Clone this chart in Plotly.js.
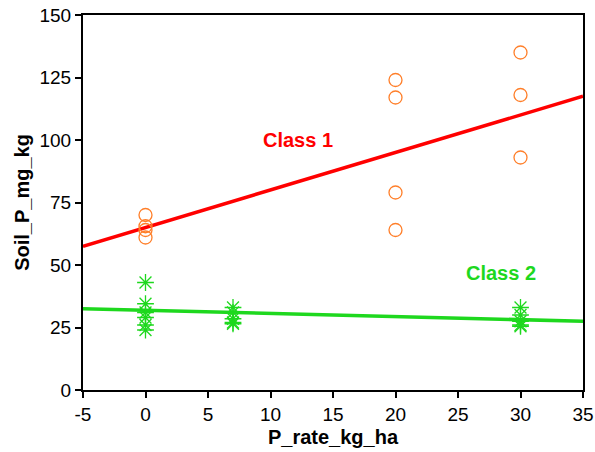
<!DOCTYPE html>
<html><head><meta charset="utf-8">
<script src="https://cdn.plot.ly/plotly-3.0.1.min.js"></script>
<style>body{margin:0;padding:0;background:#fff}#chart{width:595px;height:452px}</style>
</head><body><div id="chart"></div>
<script>
// Class 1 observations
const class1X = [0, 0, 0, 0, 20, 20, 20, 20, 30, 30, 30];
const class1Y = [70, 65.5, 64, 61, 124, 117, 79, 64, 135, 118, 93];
// Class 2 observations
const class2X = [0, 0, 0, 0, 0, 0, 7, 7, 7, 7, 7, 30, 30, 30, 30, 30];
const class2Y = [43, 34.5, 31, 29, 26, 24, 33, 31, 28.5, 27, 26.5, 33, 30, 27.5, 26, 25.5];
// Fitted lines
const fitX = [-5, 35];
const fit1Y = [57.5, 117.5];
const fit2Y = [32.5, 27.5];
const xTicks = [-5, 0, 5, 10, 15, 20, 25, 30, 35];
const yTicks = [0, 25, 50, 75, 100, 125, 150];

const red = '#ff0000', green = '#1ed81e', orange = '#ff7f2a';
const traces = [
  {x: fitX, y: fit1Y, mode: 'lines', line: {color: red, width: 3.5}, hoverinfo: 'skip'},
  {x: fitX, y: fit2Y, mode: 'lines', line: {color: green, width: 3.5}, hoverinfo: 'skip'},
  {x: class1X, y: class1Y, mode: 'markers', marker: {symbol: 'circle-open', size: 13, color: orange, line: {width: 1.3}}},
  {x: class2X, y: class2Y, mode: 'markers', marker: {symbol: 'asterisk-open', size: 14, color: green, line: {width: 1.3, color: green}}}
];
const font = {family: 'Liberation Sans, Arial, sans-serif', color: '#000'};
const layout = {
  width: 595, height: 452,
  margin: {l: 83, r: 12, t: 15, b: 62},
  showlegend: false,
  paper_bgcolor: '#fff', plot_bgcolor: '#fff',
  font: font,
  xaxis: {
    range: [-5, 35], tickvals: xTicks, ticktext: xTicks.map(String),
    showgrid: false, zeroline: false, showline: true, mirror: true,
    linecolor: '#000', linewidth: 2, ticks: 'outside', ticklen: 6, tickwidth: 2, tickcolor: '#000',
    tickfont: {size: 19, family: font.family, color: '#000'},
    title: {text: '<b>P_rate_kg_ha</b>', font: {size: 20, family: font.family, color: '#000'}, standoff: 6}
  },
  yaxis: {
    range: [0, 150], tickvals: yTicks, ticktext: yTicks.map(String),
    showgrid: false, zeroline: false, showline: true, mirror: true,
    linecolor: '#000', linewidth: 2, ticks: 'outside', ticklen: 6, tickwidth: 2, tickcolor: '#000',
    tickfont: {size: 19, family: font.family, color: '#000'},
    title: {text: '<b>Soil_P_mg_kg</b>', font: {size: 20, family: font.family, color: '#000'}, standoff: 4}
  },
  annotations: [
    {x: 12.2, y: 100, text: '<b>Class 1</b>', showarrow: false, font: {size: 20, color: red, family: font.family}},
    {x: 28.4, y: 47, text: '<b>Class 2</b>', showarrow: false, font: {size: 20, color: green, family: font.family}}
  ]
};
Plotly.newPlot('chart', traces, layout, {displayModeBar: false, staticPlot: true});
</script></body></html>
